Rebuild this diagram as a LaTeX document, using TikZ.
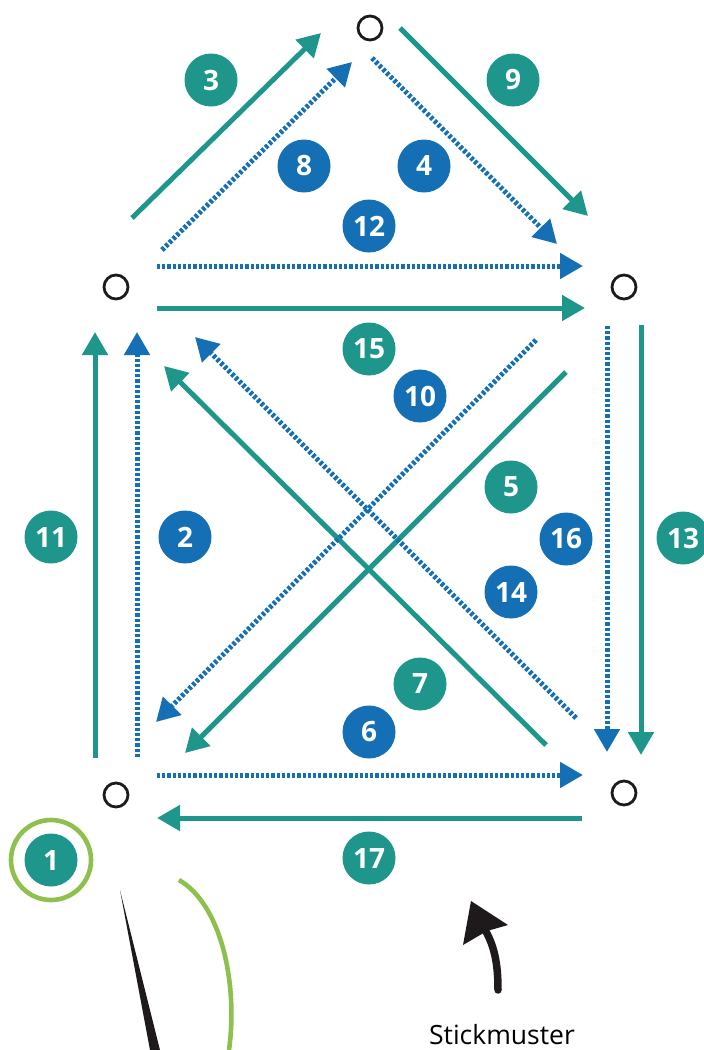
\documentclass[tikz,border=0pt]{standalone}
\usepackage{fontspec}
\setmainfont{Open Sans}
\usetikzlibrary{arrows.meta}
\definecolor{myteal}{HTML}{1E968B}
\definecolor{myblue}{HTML}{146FB4}
\definecolor{mygreen}{HTML}{8DC04D}
\definecolor{myblack}{HTML}{1E1A1B}
\begin{document}
\begin{tikzpicture}[x=1pt,y=-1pt,
  pt/.style={circle,draw=myblack,line width=2.8pt,minimum size=24pt,inner sep=0pt},
  garrow/.style={draw=myteal,line width=5pt,-{Triangle[length=23pt,width=25pt]}},
  barrow/.style={draw=myblue,line width=5pt,dash pattern=on 3.2pt off 2pt,-{Triangle[length=23pt,width=25pt]}},
  gnum/.style={circle,fill=myteal,text=white,minimum size=53pt,inner sep=0pt,font=\bfseries\fontsize{28}{28}\selectfont},
  bnum/.style={gnum,fill=myblue}]
\useasboundingbox (0,0) rectangle (704,1050);
% stations
\node[pt] (top) at (370,28) {};
\node[pt] (ml) at (116,287) {};
\node[pt] (mr) at (624,287) {};
\node[pt] (bl) at (116,795) {};
\node[pt] (br) at (624,793) {};
% arrow endpoints
\coordinate (a3s) at (132,218); \coordinate (a3e) at (321,33);
\coordinate (a9s) at (400,28); \coordinate (a9e) at (588,216);
\coordinate (a15s) at (157,308); \coordinate (a15e) at (585,308);
\coordinate (a11s) at (95,758); \coordinate (a11e) at (95,332);
\coordinate (a13s) at (641,325); \coordinate (a13e) at (641,755);
\coordinate (a5s) at (566,372); \coordinate (a5e) at (185,753);
\coordinate (a7s) at (546,745); \coordinate (a7e) at (164,366);
\coordinate (a17s) at (582,818); \coordinate (a17e) at (157,818);
\coordinate (a8s) at (162,250); \coordinate (a8e) at (352,62);
\coordinate (a4s) at (372,58); \coordinate (a4e) at (557,244);
\coordinate (a12s) at (157,266); \coordinate (a12e) at (583,266);
\coordinate (a2s) at (137,757); \coordinate (a2e) at (137,332);
\coordinate (a16s) at (607,326); \coordinate (a16e) at (607,752);
\coordinate (a10s) at (576,718); \coordinate (a10e) at (195,337);
\coordinate (a14s) at (536,340); \coordinate (a14e) at (156,722);
\coordinate (a6s) at (157,775); \coordinate (a6e) at (583,775);
% green arrows
\draw[garrow] (a3s) -- (a3e);
\draw[garrow] (a9s) -- (a9e);
\draw[garrow] (a15s) -- (a15e);
\draw[garrow] (a11s) -- (a11e);
\draw[garrow] (a13s) -- (a13e);
\draw[garrow] (a5s) -- (a5e);
\draw[garrow] (a7s) -- (a7e);
\draw[garrow] (a17s) -- (a17e);
% blue dotted arrows
\draw[barrow] (a8s) -- (a8e);
\draw[barrow] (a4s) -- (a4e);
\draw[barrow] (a12s) -- (a12e);
\draw[barrow] (a2s) -- (a2e);
\draw[barrow] (a16s) -- (a16e);
\draw[barrow] (a10s) -- (a10e);
\draw[barrow] (a14s) -- (a14e);
\draw[barrow] (a6s) -- (a6e);
% numbers
\node[gnum] (n3) at (211,80) {3};
\node[gnum] (n9) at (513,80) {9};
\node[bnum] (n8) at (304,166) {8};
\node[bnum] (n4) at (424,166) {4};
\node[bnum] (n12) at (369,226) {12};
\node[gnum] (n15) at (369,349) {15};
\node[bnum] (n10) at (420,396) {10};
\node[gnum] (n5) at (511,487) {5};
\node[gnum] (n11) at (51,537) {11};
\node[bnum] (n2) at (185,537) {2};
\node[bnum] (n16) at (566,539) {16};
\node[gnum] (n13) at (683,538) {13};
\node[bnum] (n14) at (511,592) {14};
\node[gnum] (n7) at (420,684) {7};
\node[bnum] (n6) at (369,732) {6};
\node[gnum] (n17) at (369,858) {17};
\node[gnum] (n1) at (51,860) {1};
\node[circle,draw=mygreen,line width=4.6pt,minimum size=80pt,inner sep=0pt] (ring) at (n1) {};
% needle and thread
\fill[myblack] (120,890) -- (160,1050) -- (150,1050) -- cycle;
\draw[mygreen,line width=4.6pt] (179,880) .. controls (222,905) and (238,985) .. (229,1050);
% Stickmuster arrow
\coordinate (sa) at (498,990);
\coordinate (sb) at (484,928);
\draw[myblack,line width=7.5pt,line cap=round] (sa) .. controls (498,962) and (494,945) .. (sb);
\fill[myblack] (471,901) -- (508,925) -- (487,931) -- (463,945) -- cycle;
\node[font=\fontsize{26.5}{26.5}\selectfont,anchor=base,inner sep=0pt] (lbl) at (502,1044) {Stickmuster};
\end{tikzpicture}
\end{document}
